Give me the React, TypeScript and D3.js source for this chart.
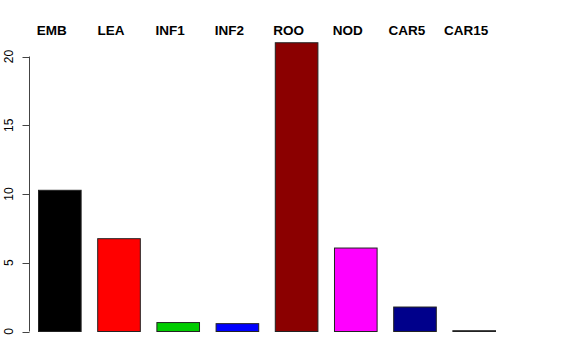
import React from "react";
import * as d3 from "d3";

const categories = ["EMB", "LEA", "INF1", "INF2", "ROO", "NOD", "CAR5", "CAR15"];
const values = [10.27, 6.75, 0.65, 0.57, 21.0, 6.07, 1.78, 0.06];
const colors = ["#000000", "#ff0000", "#00cd00", "#0000ff", "#8b0000", "#ff00ff", "#00008b", "#ffffff"];
const yTicks = [0, 5, 10, 15, 20];

const W = 576;
const H = 360;

export default function App() {
  const x = d3
    .scaleBand<string>()
    .domain(categories)
    .range([38, 495])
    .paddingInner(0.28)
    .paddingOuter(0);
  const y = d3.scaleLinear().domain([0, 20]).range([331.5, 56.5]);
  const axisX = 29.5;

  return (
    <svg
      width={W}
      height={H}
      style={{ position: "absolute", left: 0, top: 0, background: "#fff" }}
      fontFamily="'Liberation Sans', Arial, Helvetica, sans-serif"
    >
      <rect x={0} y={0} width={W} height={H} fill="#fff" />
      {categories.map((c, i) => (
        <rect
          key={c}
          x={(x(c) as number) + 0.5}
          y={y(values[i])}
          width={x.bandwidth()}
          height={y(0) - y(values[i])}
          fill={colors[i]}
          stroke="#222"
          strokeWidth={1}
        />
      ))}
      {categories.map((c) => (
        <text
          key={"l" + c}
          x={(x(c) as number) + x.bandwidth() / 2 - 7.5}
          y={34.5}
          textAnchor="middle"
          fontWeight="bold"
          fontSize={13.5}
          fill="#000"
        >
          {c}
        </text>
      ))}
      <line x1={axisX} x2={axisX} y1={y(0)} y2={y(20)} stroke="#444" strokeWidth={1} />
      {yTicks.map((t) => (
        <g key={"t" + t}>
          <line x1={axisX - 7} x2={axisX} y1={Math.round(y(t)) + 0.5} y2={Math.round(y(t)) + 0.5} stroke="#444" strokeWidth={1} />
          <text
            transform={`translate(13,${y(t)}) rotate(-90)`}
            textAnchor="middle"
            fontSize={12}
            fill="#000"
          >
            {t}
          </text>
        </g>
      ))}
    </svg>
  );
}
